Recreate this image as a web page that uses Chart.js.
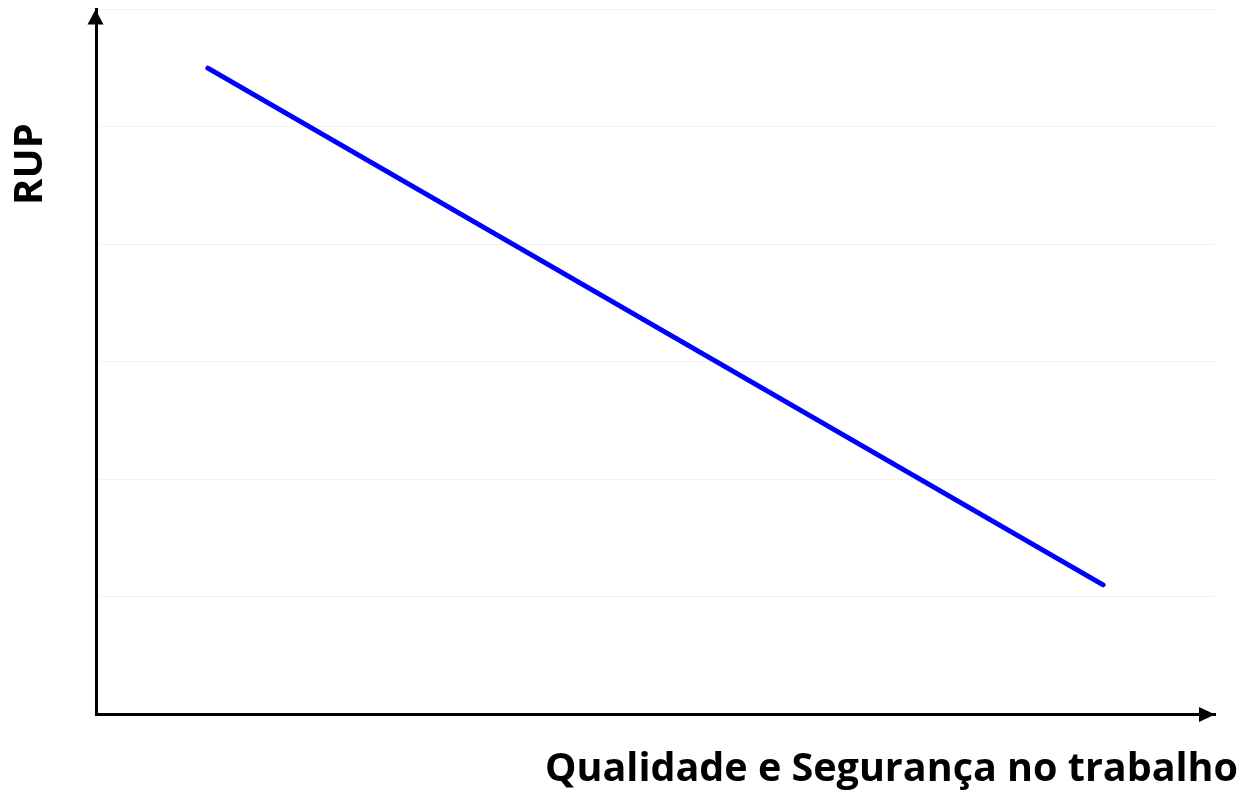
<!DOCTYPE html>
<html>
<head>
<meta charset="utf-8">
<script src="https://cdn.jsdelivr.net/npm/chart.js@4"></script>
<style>
    html, body { margin: 0; padding: 0; background: #ffffff; }
    #chartBox { width: 1245px; height: 796px; }
</style>
</head>
<body>
<div id="chartBox"><canvas id="RupChart"></canvas></div>
<script>
// Dados
var xValues = [1, 9];
var yValues = [5.5, 1.1];
var yTicks = [0, 1, 2, 3, 4, 5, 6];
var xTitle = "Qualidade e Segurança no trabalho";
var yTitle = "RUP";

var points = [];
for (i = 0; i < xValues.length; ++i) {
    points.push({ x: xValues[i], y: yValues[i] });
}

// setas nos eixos e títulos dos eixos
const axisArrows = {
    id: 'axisArrows',
    afterDraw: function (chart) {
        const ctx = chart.ctx;
        const area = chart.chartArea;
        ctx.save();
        ctx.fillStyle = '#000000';

        // seta do eixo y
        ctx.beginPath();
        ctx.moveTo(95.5, area.top);
        ctx.lineTo(87.5, area.top + 15);
        ctx.lineTo(103.5, area.top + 15);
        ctx.closePath();
        ctx.fill();

        // seta do eixo x
        ctx.beginPath();
        ctx.moveTo(area.right, 714.5);
        ctx.lineTo(area.right - 16, 707);
        ctx.lineTo(area.right - 16, 722);
        ctx.closePath();
        ctx.fill();

        ctx.font = 'bold 39.5px "Open Sans"';
        ctx.textAlign = 'right';
        ctx.textBaseline = 'alphabetic';
        ctx.fillText(xTitle, 1238, 781);

        ctx.translate(42, 164);
        ctx.rotate(-Math.PI / 2);
        ctx.font = 'bold 40px "Open Sans"';
        ctx.textAlign = 'center';
        ctx.fillText(yTitle, 0, 0);
        ctx.restore();
    }
};

const data = {
    datasets: [{
        label: yTitle,
        data: points,
        borderColor: '#0000ff',
        backgroundColor: '#0000ff',
        borderWidth: 5,
        borderCapStyle: 'round',
        pointRadius: 0,
        tension: 0,
        fill: false
    }]
};

const config = {
    type: 'line',
    data: data,
    plugins: [axisArrows],
    options: {
        responsive: false,
        animation: false,
        layout: {
            padding: { left: 96, top: 9.5, right: 30, bottom: 82 }
        },
        plugins: {
            legend: { display: false },
            tooltip: { enabled: false }
        },
        scales: {
            x: {
                type: 'linear',
                min: 0,
                max: 10,
                grid: { display: false, drawTicks: false },
                border: { color: '#000000', width: 3 },
                ticks: { display: false }
            },
            y: {
                min: yTicks[0],
                max: yTicks[yTicks.length - 1],
                grid: { color: '#f2f2f2', lineWidth: 1, drawTicks: false },
                border: { color: '#000000', width: 3 },
                ticks: { display: false, stepSize: 1 }
            }
        }
    }
};

var canvas = document.getElementById("RupChart");
canvas.width = 1245;
canvas.height = 796;
var myChart = new Chart(canvas, config);
</script>
</body>
</html>
